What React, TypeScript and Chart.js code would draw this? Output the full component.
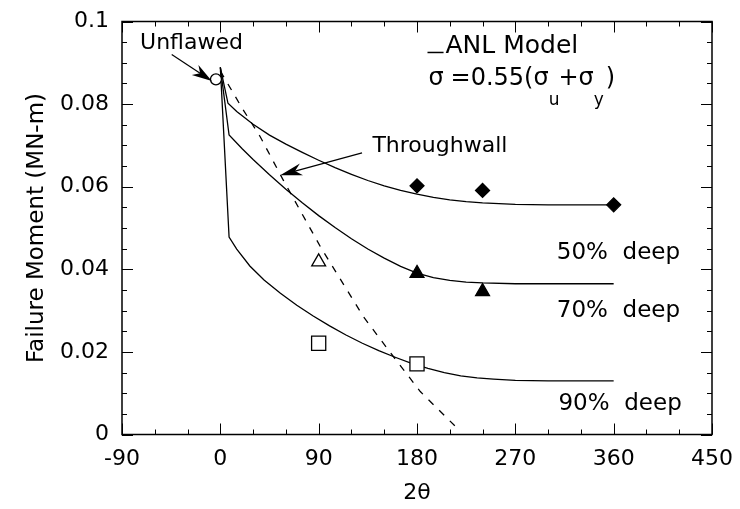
import React, { useEffect, useRef } from "react";
import { Chart, registerables } from "chart.js";

Chart.register(...registerables);

const FONT = "'DejaVu Sans', sans-serif";

// axis ticks
const xTickValues = [-90, 0, 90, 180, 270, 360, 450];
const yTickValues = [0, 0.02, 0.04, 0.06, 0.08, 0.1];
const yTickLabels = ["0", "0.02", "0.04", "0.06", "0.08", "0.1"];
const xMinorStep = 30;
const yMinorStep = 0.005;

// ANL model curves
const curve50X = [0, 7, 15, 30, 45, 60, 75, 90, 105, 120, 135, 150, 165, 180, 195, 210, 225, 240, 255, 270, 300, 360];
const curve50Y = [0.0889, 0.0802, 0.0782, 0.0751, 0.0725, 0.0703, 0.0683, 0.0664, 0.0646, 0.063, 0.0615, 0.0602, 0.0591, 0.0582, 0.0574, 0.0568, 0.0564, 0.0561, 0.0559, 0.0557, 0.0556, 0.0556];

const curve70X = [0, 8, 20, 30, 45, 60, 75, 90, 105, 120, 135, 150, 165, 180, 195, 210, 225, 240, 270, 360];
const curve70Y = [0.0889, 0.0725, 0.0692, 0.0666, 0.0629, 0.0594, 0.0561, 0.053, 0.0501, 0.0474, 0.0449, 0.0427, 0.0407, 0.0391, 0.038, 0.0373, 0.0369, 0.0367, 0.0365, 0.0365];

const curve90X = [0, 8, 15, 27, 40, 55, 70, 85, 100, 115, 130, 145, 160, 175, 190, 205, 220, 235, 250, 270, 300, 360];
const curve90Y = [0.0889, 0.0478, 0.0449, 0.0408, 0.0374, 0.0342, 0.0313, 0.0287, 0.0263, 0.0241, 0.0221, 0.0203, 0.0187, 0.0172, 0.016, 0.015, 0.0142, 0.0137, 0.0134, 0.0131, 0.013, 0.013];

// Throughwall (dashed)
const throughX = [0, 20, 36.5, 57.6, 91.5, 131, 156, 183, 215];
const throughY = [0.088, 0.079, 0.0721, 0.0616, 0.0455, 0.0285, 0.0197, 0.0104, 0.002];

// Experimental points
const unflawedX = [-4];
const unflawedY = [0.086];
const deep50X = [180, 240, 360];
const deep50Y = [0.0602, 0.0591, 0.0556];
const deep70X = [180, 240];
const deep70Y = [0.039, 0.0346];
const tw70X = [90];
const tw70Y = [0.0418];
const deep90X = [90, 180];
const deep90Y = [0.0221, 0.0171];

const pts = (xs: number[], ys: number[]) => xs.map((x, i) => ({ x, y: ys[i] }));

function drawArrow(ctx: CanvasRenderingContext2D, x1: number, y1: number, x2: number, y2: number, headLen: number, headW: number) {
  const dx = x2 - x1, dy = y2 - y1;
  const L = Math.hypot(dx, dy);
  const ux = dx / L, uy = dy / L;
  const nx = -uy, ny = ux;
  ctx.beginPath();
  ctx.moveTo(x1, y1);
  ctx.lineTo(x2 - ux * headLen * 0.7, y2 - uy * headLen * 0.7);
  ctx.stroke();
  ctx.beginPath();
  ctx.moveTo(x2, y2);
  ctx.lineTo(x2 - ux * headLen + nx * headW, y2 - uy * headLen + ny * headW);
  ctx.lineTo(x2 - ux * headLen * 0.7, y2 - uy * headLen * 0.7);
  ctx.lineTo(x2 - ux * headLen - nx * headW, y2 - uy * headLen - ny * headW);
  ctx.closePath();
  ctx.fill();
}

const framePlugin = {
  id: "frameTicks",
  afterDatasetsDraw(chart: any) {
    const { ctx, chartArea: a, scales } = chart;
    const x = scales.x, y = scales.y;
    ctx.save();
    ctx.strokeStyle = "#000";
    ctx.lineWidth = 1.5;
    ctx.strokeRect(a.left, a.top, a.right - a.left, a.bottom - a.top);
    ctx.lineWidth = 1;
    const xmin = xTickValues[0], xmax = xTickValues[xTickValues.length - 1];
    for (let v = xmin; v <= xmax + 1e-9; v += xMinorStep) {
      const px = Math.round(x.getPixelForValue(v)) + 0.5;
      const major = xTickValues.includes(v);
      const len = major ? 11 : 5;
      ctx.beginPath();
      ctx.moveTo(px, a.bottom);
      ctx.lineTo(px, a.bottom - len);
      ctx.moveTo(px, a.top);
      ctx.lineTo(px, a.top + len);
      ctx.stroke();
    }
    const ymax = yTickValues[yTickValues.length - 1];
    const n = Math.round(ymax / yMinorStep);
    for (let i = 0; i <= n; i++) {
      const v = i * yMinorStep;
      const py = Math.round(y.getPixelForValue(v)) + 0.5;
      const major = i % 4 === 0;
      const len = major ? 11 : 5;
      ctx.beginPath();
      ctx.moveTo(a.left, py);
      ctx.lineTo(a.left + len, py);
      ctx.moveTo(a.right, py);
      ctx.lineTo(a.right - len, py);
      ctx.stroke();
    }
    ctx.restore();
  },
};

const annotPlugin = {
  id: "annotations",
  afterDatasetsDraw(chart: any) {
    const { ctx, scales } = chart;
    const X = (v: number) => scales.x.getPixelForValue(v);
    const Y = (v: number) => scales.y.getPixelForValue(v);
    ctx.save();
    ctx.fillStyle = "#000";
    ctx.strokeStyle = "#000";
    ctx.textBaseline = "alphabetic";
    ctx.textAlign = "left";

    ctx.font = `22px ${FONT}`;
    ctx.fillText("Unflawed", X(-73.5), Y(0.0933));
    ctx.lineWidth = 1.2;
    drawArrow(ctx, X(-44.5), Y(0.092), X(-7.8), Y(0.0856), 20, 6);

    ctx.fillText("Throughwall", X(139.2), Y(0.0685));
    drawArrow(ctx, X(129.7), Y(0.0682), X(54.8), Y(0.0628), 22, 6);

    // ANL model block
    ctx.font = `25px ${FONT}`;
    ctx.fillText("ANL Model", X(206.1), Y(0.0924));
    ctx.lineWidth = 1.5;
    ctx.beginPath();
    ctx.moveTo(X(189.6), Y(0.0925));
    ctx.lineTo(X(204.3), Y(0.0925));
    ctx.stroke();
    ctx.font = `24px ${FONT}`;
    const bx = X(190.5), by = Y(0.0846);
    ctx.fillText("\u03c3", bx, by);
    let cx = X(210.7);
    ctx.fillText("=0.55(\u03c3", cx, by);
    cx += ctx.measureText("=0.55(\u03c3").width;
    ctx.font = `17px ${FONT}`;
    ctx.fillText("u", cx, by + 20);
    cx += ctx.measureText("u").width - 1;
    ctx.font = `24px ${FONT}`;
    ctx.fillText("+\u03c3", cx, by);
    cx += ctx.measureText("+\u03c3").width;
    ctx.font = `17px ${FONT}`;
    ctx.fillText("y", cx, by + 20);
    cx += ctx.measureText("y").width + 2;
    ctx.font = `24px ${FONT}`;
    ctx.fillText(")", cx, by);

    ctx.font = `23px ${FONT}`;
    ctx.fillText("50%  deep", X(308), Y(0.0425));
    ctx.fillText("70%  deep", X(308), Y(0.0285));
    ctx.fillText("90%  deep", X(309.5), Y(0.0059));
    ctx.restore();
  },
};

export default function App() {
  const ref = useRef<HTMLCanvasElement>(null);
  useEffect(() => {
    const lineDs = (data: any[], dash: number[] = []) => ({
      data,
      showLine: true,
      borderColor: "#000",
      borderWidth: 1.3,
      borderDash: dash,
      pointRadius: 0,
      fill: false,
      tension: 0,
      order: 2,
    });
    const markDs = (data: any[], style: string, r: number, filled: boolean) => ({
      data,
      showLine: false,
      pointStyle: style,
      pointRadius: r,
      pointHoverRadius: r,
      pointBorderColor: "#000",
      pointBorderWidth: 1.3,
      pointBackgroundColor: filled ? "#000" : "#fff",
      order: 1,
    });
    const chart = new Chart(ref.current as HTMLCanvasElement, {
      type: "scatter",
      data: {
        datasets: [
          lineDs(pts(curve50X, curve50Y)),
          lineDs(pts(curve70X, curve70Y)),
          lineDs(pts(curve90X, curve90Y)),
          lineDs(pts(throughX, throughY), [7, 8]),
          markDs(pts(unflawedX, unflawedY), "circle", 5.5, false),
          markDs(pts(deep50X, deep50Y), "rectRot", 7, true),
          markDs(pts(deep70X, deep70Y), "triangle", 8, true),
          markDs(pts(tw70X, tw70Y), "triangle", 8, false),
          markDs(pts(deep90X, deep90Y), "rect", 10, false),
        ] as any,
      },
      options: {
        animation: false,
        responsive: true,
        maintainAspectRatio: false,
        layout: { padding: { top: 13.5, right: 20, left: 0, bottom: 0 } },
        plugins: { legend: { display: false }, tooltip: { enabled: false } },
        scales: {
          x: {
            type: "linear",
            min: -90,
            max: 450,
            afterBuildTicks: (s: any) => {
              s.ticks = xTickValues.map((v) => ({ value: v }));
            },
            afterFit: (s: any) => {
              s.height = 66.5;
              s.paddingLeft = 0;
              s.paddingRight = 0;
            },
            grid: { display: false, drawTicks: false },
            border: { display: false },
            ticks: {
              color: "#000",
              font: { family: FONT, size: 22 },
              padding: 12,
              maxRotation: 0,
              autoSkip: false,
              callback: (v: any) => String(v),
            },
            title: {
              display: true,
              text: "2\u03b8",
              color: "#000",
              font: { family: FONT, size: 22, lineHeight: 0.7 },
              padding: { top: 0, bottom: 0 },
            },
          },
          y: {
            type: "linear",
            min: 0,
            max: 0.1,
            afterBuildTicks: (s: any) => {
              s.ticks = yTickValues.map((v) => ({ value: v }));
            },
            afterFit: (s: any) => {
              s.width = 114;
              s.paddingTop = 0;
              s.paddingBottom = 0;
            },
            grid: { display: false, drawTicks: false },
            border: { display: false },
            ticks: {
              color: "#000",
              font: { family: FONT, size: 22 },
              padding: 13,
              autoSkip: false,
              callback: (v: any) => {
                const i = yTickValues.findIndex((t) => Math.abs(t - v) < 1e-9);
                return i >= 0 ? yTickLabels[i] : "";
              },
            },
            title: {
              display: true,
              text: "Failure Moment (MN-m)",
              color: "#000",
              font: { family: FONT, size: 23 },
              padding: { top: 15, bottom: 0 },
            },
          },
        },
      } as any,
      plugins: [framePlugin, annotPlugin],
    });
    return () => chart.destroy();
  }, []);
  return (
    <div style={{ position: "relative", width: 724, height: 493 }}>
      <canvas ref={ref} />
    </div>
  );
}
